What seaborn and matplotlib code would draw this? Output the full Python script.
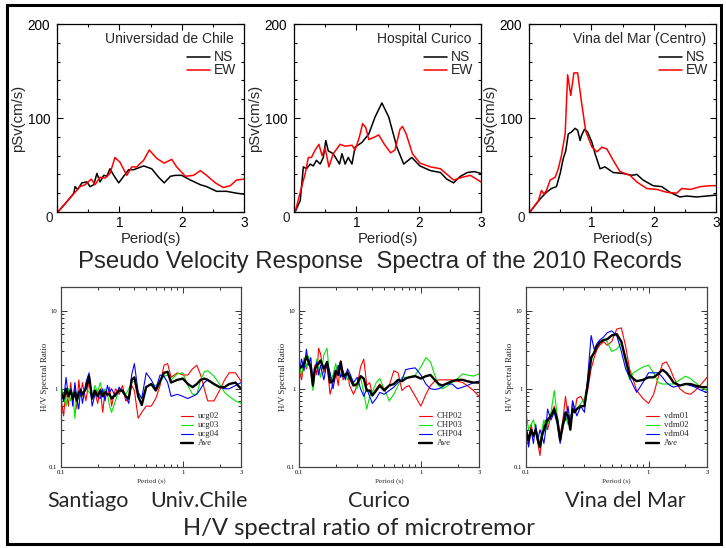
import numpy as np
import pandas as pd
import matplotlib
matplotlib.use("Agg")
import matplotlib.pyplot as plt
import seaborn as sns
from matplotlib.ticker import FixedLocator, NullFormatter, FixedFormatter
from matplotlib.patches import Rectangle

# ---------------- data: pseudo velocity response spectra ----------------
uch_ns_T = [0.02, 0.16, 0.27, 0.29, 0.33, 0.40, 0.48, 0.53, 0.59, 0.64, 0.69, 0.75, 0.80, 0.85, 0.91, 0.99,
            1.07, 1.15, 1.23, 1.39, 1.52, 1.63, 1.72, 1.82, 1.90, 2.00, 2.14, 2.30, 2.40, 2.56, 2.72, 2.88, 3.00]
uch_ns_v = [0.5, 11, 20, 27, 24, 31, 32, 27, 29, 41, 32, 39, 38, 46, 39, 31,
            38, 45, 45, 49, 46, 37, 31, 38, 39, 39, 34, 29, 27, 22, 22, 20, 19]
uch_ew_T = [0.02, 0.21, 0.37, 0.45, 0.55, 0.61, 0.69, 0.77, 0.85, 0.93, 1.01, 1.12, 1.20, 1.28, 1.39, 1.48,
            1.60, 1.72, 1.84, 1.92, 2.06, 2.19, 2.30, 2.40, 2.54, 2.67, 2.78, 2.88, 3.00]
uch_ew_v = [0.5, 15, 27, 29, 35, 29, 37, 36, 41, 58, 53, 39, 48, 48, 55, 66,
            57, 52, 56, 48, 38, 39, 44, 39, 31, 26, 28, 34, 35]

cur_ns_T = [0.02, 0.10, 0.15, 0.20, 0.26, 0.31, 0.36, 0.42, 0.47, 0.51, 0.55, 0.63, 0.73, 0.77, 0.82, 0.87,
            0.93, 0.98, 1.09, 1.20, 1.30, 1.41, 1.52, 1.65, 1.76, 1.89, 2.02, 2.19, 2.35, 2.45, 2.56, 2.67,
            2.78, 2.89, 3.00]
cur_ns_v = [0.5, 12, 48, 46, 51, 49, 55, 51, 58, 76, 65, 62, 51, 62, 51, 58,
            51, 69, 74, 83, 101, 116, 101, 69, 51, 58, 49, 44, 42, 35, 31, 38,
            42, 43, 41]
cur_ew_T = [0.02, 0.12, 0.18, 0.23, 0.28, 0.34, 0.40, 0.45, 0.50, 0.56, 0.63, 0.74, 0.82, 0.93, 0.98, 1.05,
            1.10, 1.15, 1.20, 1.30, 1.36, 1.45, 1.55, 1.62, 1.70, 1.74, 1.80, 1.90, 2.02, 2.19, 2.35, 2.56,
            2.70, 2.83, 3.00]
cur_ew_v = [0.5, 26, 41, 58, 58, 66, 72, 60, 68, 48, 62, 72, 70, 71, 66, 80,
            94, 90, 77, 80, 82, 72, 63, 66, 88, 91, 83, 62, 52, 48, 46, 34,
            37, 39, 32]

vdm_ns_T = [0.02, 0.18, 0.28, 0.36, 0.44, 0.50, 0.55, 0.59, 0.63, 0.68, 0.74, 0.78, 0.82, 0.84, 0.89, 0.94,
            1.01, 1.06, 1.14, 1.22, 1.35, 1.51, 1.65, 1.73, 1.83, 1.99, 2.13, 2.26, 2.42, 2.53, 2.69, 2.85, 3.00]
vdm_ns_v = [0.5, 14, 21, 25, 27, 41, 57, 65, 83, 85, 89, 87, 76, 81, 88, 85,
            74, 62, 46, 48, 42, 41, 39, 40, 34, 28, 27, 21, 16, 17, 16, 17, 18]
vdm_ew_T = [0.02, 0.15, 0.20, 0.24, 0.28, 0.34, 0.42, 0.47, 0.52, 0.58, 0.62, 0.67, 0.72, 0.78, 0.84, 0.91,
            1.01, 1.09, 1.17, 1.25, 1.35, 1.46, 1.62, 1.73, 1.89, 2.05, 2.21, 2.37, 2.45, 2.59, 2.75, 2.91, 3.00]
vdm_ew_v = [0.5, 12, 23, 19, 23, 34, 37, 46, 60, 83, 146, 124, 148, 148, 118, 86,
            69, 64, 69, 67, 55, 43, 39, 32, 25, 24, 21, 20, 25, 24, 27, 28, 28]

psv_titles = ["Universidad de Chile", "Hospital Curico", "Vina del Mar (Centro)"]

# ---------------- data: H/V spectral ratios ----------------
hv_T = [0.10, 0.105, 0.11, 0.115, 0.12, 0.125, 0.13, 0.135, 0.14, 0.145, 0.15, 0.16, 0.17, 0.18, 0.19, 0.20,
        0.21, 0.22, 0.23, 0.24, 0.25, 0.26, 0.28, 0.30, 0.32, 0.34, 0.36, 0.38, 0.40, 0.43, 0.46, 0.50,
        0.55, 0.60, 0.65, 0.70, 0.75, 0.80, 0.90, 1.0, 1.1, 1.2, 1.3, 1.4, 1.5, 1.6, 1.8, 2.0,
        2.2, 2.4, 2.7, 3.0]

ucg02 = [0.75, 0.45, 1.0, 0.6, 1.2, 0.7, 1.1, 0.55, 1.3, 0.8, 1.2, 0.7, 1.3, 0.75, 0.9, 0.65,
         1.0, 0.5, 0.95, 0.8, 1.05, 0.6, 1.0, 0.85, 1.1, 0.7, 0.75, 1.1, 0.95, 0.42, 0.5, 0.6,
         0.6, 0.75, 1.1, 2.0, 2.1, 1.4, 1.6, 1.5, 1.5, 1.8, 2.0, 1.5, 1.0, 0.7, 0.7, 0.95,
         1.3, 1.6, 1.6, 1.25]
ucg03 = [1.1, 0.8, 0.6, 1.0, 0.7, 0.9, 0.42, 0.9, 0.75, 1.0, 0.8, 1.05, 0.9, 0.8, 1.1, 0.9,
         1.2, 0.85, 1.0, 0.9, 0.6, 0.5, 0.7, 1.0, 0.95, 0.85, 1.0, 1.2, 1.25, 0.9, 0.75, 1.05,
         1.15, 1.1, 1.2, 1.45, 1.5, 1.3, 1.55, 1.6, 1.1, 0.85, 0.85, 1.3, 1.65, 1.7, 1.45, 1.15,
         0.9, 0.8, 0.7, 0.65]
ucg04 = [0.9, 0.7, 1.4, 0.8, 1.0, 0.6, 1.2, 0.75, 0.55, 1.0, 0.65, 1.2, 1.6, 0.6, 0.85, 0.8,
         0.75, 1.0, 0.7, 1.1, 0.9, 1.0, 0.8, 1.05, 0.9, 0.8, 0.65, 1.5, 2.1, 0.9, 0.75, 1.6,
         1.3, 1.0, 1.5, 1.45, 1.2, 0.8, 0.85, 0.8, 0.75, 0.8, 0.85, 1.0, 1.2, 1.3, 1.15, 1.05,
         1.0, 1.0, 1.1, 1.2]
ucg_ave = [0.9, 0.75, 1.0, 0.8, 0.95, 0.75, 0.9, 0.7, 0.9, 0.95, 0.85, 1.0, 1.45, 0.75, 0.95, 0.8,
           0.95, 0.8, 0.9, 0.85, 0.85, 0.75, 0.85, 0.95, 0.95, 0.8, 0.75, 1.3, 1.4, 0.8, 0.62, 1.05,
           1.15, 0.95, 1.25, 1.6, 1.65, 1.2, 1.3, 1.35, 1.15, 1.05, 1.15, 1.3, 1.35, 1.3, 1.15, 1.05,
           1.05, 1.15, 1.2, 1.0]

chp02 = [1.8, 1.3, 2.2, 1.8, 2.4, 1.6, 1.1, 2.0, 1.5, 3.3, 2.8, 1.6, 2.0, 0.85, 1.2, 1.7,
         1.1, 2.3, 1.3, 1.5, 1.7, 1.1, 0.85, 1.1, 1.9, 2.4, 1.1, 1.2, 0.85, 1.0, 1.15, 1.0,
         1.1, 1.7, 1.6, 0.95, 1.05, 1.1, 0.8, 0.6, 0.85, 1.1, 1.25, 1.3, 1.3, 1.3, 1.3, 1.25,
         1.2, 1.1, 0.95, 0.8]
chp03 = [2.2, 1.5, 2.5, 1.9, 2.6, 1.8, 0.95, 1.6, 2.4, 1.8, 1.4, 2.7, 3.3, 1.2, 1.5, 2.1,
         1.5, 2.0, 1.4, 1.6, 1.3, 1.5, 1.2, 1.0, 1.4, 0.9, 0.55, 0.8, 0.9, 1.2, 1.35, 1.0,
         0.7, 0.85, 1.1, 1.4, 1.4, 1.4, 1.5, 1.9, 2.5, 2.2, 1.5, 1.1, 1.0, 1.05, 1.2, 1.35,
         1.55, 1.5, 1.45, 1.55]
chp04 = [1.6, 2.4, 1.7, 3.2, 2.0, 2.5, 1.2, 1.8, 2.2, 1.5, 2.0, 1.3, 2.2, 1.6, 1.0, 1.5,
         2.0, 1.4, 1.7, 1.3, 1.8, 1.6, 1.2, 1.4, 1.0, 0.8, 1.0, 0.8, 0.65, 0.75, 0.9, 0.85,
         0.95, 1.05, 1.2, 1.3, 1.75, 1.8, 1.85, 1.5, 1.15, 1.0, 0.98, 1.0, 1.05, 1.15, 1.15, 1.0,
         1.05, 1.1, 1.2, 1.25]
chp_ave = [1.8, 1.9, 2.1, 2.6, 2.2, 1.9, 1.1, 1.8, 2.0, 2.1, 2.3, 1.8, 2.2, 1.2, 1.25, 1.7,
           1.5, 2.2, 1.45, 1.5, 1.6, 1.4, 1.1, 1.15, 1.45, 1.35, 0.95, 0.95, 0.82, 0.95, 1.1, 0.95,
           1.1, 1.15, 1.3, 1.25, 1.35, 1.4, 1.45, 1.35, 1.45, 1.5, 1.3, 1.15, 1.1, 1.15, 1.25, 1.3,
           1.3, 1.25, 1.2, 1.2]

vdm01 = [0.3, 0.2, 0.35, 0.25, 0.3, 0.2, 0.14, 0.25, 0.35, 0.4, 0.3, 0.45, 0.6, 0.4, 0.25, 0.4,
         0.8, 0.45, 0.3, 0.7, 0.5, 0.75, 0.8, 0.65, 1.0, 1.8, 2.5, 3.2, 3.6, 4.0, 3.6, 4.0,
         5.8, 6.0, 3.5, 1.8, 1.3, 0.95, 0.75, 0.65, 0.85, 1.4, 2.1, 2.2, 1.8, 1.4, 1.0, 0.88,
         0.85, 0.95, 1.15, 1.4]
vdm02 = [0.5, 0.3, 0.35, 0.4, 0.3, 0.25, 0.2, 0.3, 0.4, 0.3, 0.35, 0.5, 0.95, 0.45, 0.25, 0.3,
         0.45, 0.35, 0.45, 0.5, 0.6, 0.55, 0.65, 0.75, 1.2, 2.2, 3.0, 3.6, 4.0, 4.3, 4.0, 3.0,
         3.2, 3.8, 2.2, 1.3, 1.6, 1.7, 1.9, 2.0, 1.6, 1.2, 1.15, 1.15, 1.15, 1.15, 1.3, 1.45,
         1.35, 1.2, 1.05, 0.95]
vdm04 = [0.3, 0.18, 0.3, 0.2, 0.35, 0.22, 0.3, 0.25, 0.2, 0.3, 0.55, 0.4, 0.5, 0.35, 0.2, 0.35,
         0.4, 0.6, 0.35, 0.7, 0.55, 0.45, 0.6, 0.5, 1.5, 4.8, 3.2, 3.8, 4.2, 4.6, 5.2, 5.5,
         4.8, 3.0, 1.8, 1.4, 1.1, 0.9, 1.2, 1.6, 1.6, 1.6, 1.4, 1.2, 1.1, 1.05, 1.1, 1.15,
         1.1, 1.05, 0.95, 0.9]
vdm_ave = [0.3, 0.22, 0.3, 0.25, 0.3, 0.22, 0.18, 0.25, 0.3, 0.35, 0.4, 0.45, 0.55, 0.4, 0.22, 0.35,
           0.5, 0.45, 0.3, 0.55, 0.5, 0.55, 0.6, 0.6, 1.2, 2.5, 2.9, 3.5, 3.9, 4.2, 4.3, 4.8,
           5.0, 4.0, 2.4, 1.5, 1.35, 1.25, 1.3, 1.4, 1.4, 1.55, 1.75, 1.6, 1.4, 1.2, 1.1, 1.15,
           1.15, 1.1, 1.05, 1.05]

hv_sets = [
    (["ucg02", "ucg03", "ucg04", "Ave"], [ucg02, ucg03, ucg04, ucg_ave]),
    (["CHP02", "CHP03", "CHP04", "Ave"], [chp02, chp03, chp04, chp_ave]),
    (["vdm01", "vdm02", "vdm04", "Ave"], [vdm01, vdm02, vdm04, vdm_ave]),
]
hv_colors = ["#ff0000", "#00e600", "#0000ff", "#000000"]
hv_widths = [0.8, 0.8, 0.8, 1.7]

# ---------------- figure ----------------
sns.set_theme(style="ticks")
plt.rcParams["font.family"] = ["Liberation Sans", "DejaVu Sans"]
W, H = 726, 548
fig = plt.figure(figsize=(W / 100, H / 100), dpi=100)
fig.patch.set_facecolor("white")


def add_ax(l, t, r, b):
    return fig.add_axes([l / W, 1 - b / H, (r - l) / W, (b - t) / H])


def fx(x):
    return x / W


def fy(y):
    return 1 - y / H


# ----- top row: pSv -----
top_boxes = [(57, 24, 244, 212), (294, 24, 481, 212), (529, 24, 716, 212)]
psv_data = [((uch_ns_T, uch_ns_v), (uch_ew_T, uch_ew_v)),
            ((cur_ns_T, cur_ns_v), (cur_ew_T, cur_ew_v)),
            ((vdm_ns_T, vdm_ns_v), (vdm_ew_T, vdm_ew_v))]

for (l, t, r, b), title, (ns, ew) in zip(top_boxes, psv_titles, psv_data):
    ax = add_ax(l, t, r, b)
    df_ns = pd.DataFrame({"T": ns[0], "v": ns[1]})
    df_ew = pd.DataFrame({"T": ew[0], "v": ew[1]})
    sns.lineplot(data=df_ns, x="T", y="v", ax=ax, color="black", lw=1.1, estimator=None, sort=False)
    sns.lineplot(data=df_ew, x="T", y="v", ax=ax, color="#ff0000", lw=1.1, estimator=None, sort=False)
    ax.set_xlim(0, 3)
    ax.set_ylim(0, 200)
    ax.xaxis.set_major_locator(FixedLocator([0, 1, 2, 3]))
    ax.xaxis.set_minor_locator(FixedLocator([0.5, 1.5, 2.5]))
    ax.yaxis.set_major_locator(FixedLocator([0, 100, 200]))
    ax.yaxis.set_minor_locator(FixedLocator([20, 40, 60, 80, 120, 140, 160, 180]))
    ax.xaxis.set_major_formatter(FixedFormatter(["", "1", "2", "3"]))
    ax.yaxis.set_major_formatter(FixedFormatter(["", "100", "200"]))
    ax.tick_params(which="both", direction="in", top=True, right=True, width=0.8, colors="black")
    ax.tick_params(which="major", length=4, labelsize=9.8)
    ax.tick_params(which="minor", length=2.5)
    ax.tick_params(axis="x", pad=3)
    ax.tick_params(axis="y", pad=5)
    for s in ax.spines.values():
        s.set_linewidth(0.9)
        s.set_color("black")
    ax.set_xlabel("Period(s)", fontsize=10.7, labelpad=1)
    ax.set_ylabel("pSv(cm/s)", fontsize=10.7, labelpad=2)
    fig.text(fx(l - 8), fy(b + 6), "0", fontsize=9.8, ha="center", va="center")
    # legend (title + keys)
    fig.text(fx(r - 10), fy(39), title, fontsize=10, ha="right", va="center")
    for yy, c, lab in [(57, "black", "NS"), (70, "#ff0000", "EW")]:
        fig.add_artist(plt.Line2D([fx(r - 57), fx(r - 34)], [fy(yy), fy(yy)], color=c, lw=1.1,
                                  transform=fig.transFigure))
        fig.text(fx(r - 30), fy(yy), lab, fontsize=10, ha="left", va="center")

fig.text(fx(379.5), fy(268), "Pseudo Velocity Response  Spectra of the 2010 Records",
         fontsize=17.3, ha="center", va="baseline")

# ----- bottom row: H/V -----
bot_boxes = [(61, 287, 241, 467), (299, 287, 479, 467), (526, 287, 707, 467)]
leg_x = [(181, 193, 198), (419, 432, 437), (646, 659, 664)]
serif = ["Liberation Serif", "DejaVu Serif"]
for (l, t, r, b), (labels, series), (lx0, lx1, tx) in zip(bot_boxes, hv_sets, leg_x):
    ax = add_ax(l, t, r, b)
    for lab, vals, c, w in zip(labels, series, hv_colors, hv_widths):
        d = pd.DataFrame({"T": hv_T, "r": vals})
        sns.lineplot(data=d, x="T", y="r", ax=ax, color=c, lw=w, estimator=None, sort=False)
    ax.set_xscale("log")
    ax.set_yscale("log")
    ax.set_xlim(0.1, 3)
    ax.set_ylim(0.1, 20)
    ax.xaxis.set_major_locator(FixedLocator([0.1, 1, 3]))
    ax.xaxis.set_major_formatter(FixedFormatter(["0.1", "1", "3"]))
    ax.xaxis.set_minor_locator(FixedLocator([0.2, 0.3, 0.4, 0.5, 0.6, 0.7, 0.8, 0.9, 2]))
    ax.xaxis.set_minor_formatter(NullFormatter())
    ax.yaxis.set_major_locator(FixedLocator([0.1, 1, 10]))
    ax.yaxis.set_major_formatter(FixedFormatter(["0.1", "1", "10"]))
    ax.yaxis.set_minor_locator(FixedLocator([0.2, 0.3, 0.4, 0.5, 0.6, 0.7, 0.8, 0.9,
                                             2, 3, 4, 5, 6, 7, 8, 9]))
    ax.yaxis.set_minor_formatter(NullFormatter())
    ax.tick_params(which="both", direction="in", top=True, right=True, width=0.7, colors="#333333",
                   labelcolor="black")
    ax.tick_params(which="major", length=4, labelsize=4.8, pad=2.5)
    ax.tick_params(which="minor", length=2)
    for lbl in ax.get_xticklabels() + ax.get_yticklabels():
        lbl.set_family(serif)
    for s in ax.spines.values():
        s.set_linewidth(0.9)
        s.set_color("#444444")
    ax.set_xlabel("Period (s)", fontsize=5.2, family=serif, labelpad=2)
    ax.set_ylabel("H/V Spectral Ratio", fontsize=6.4, family=serif, labelpad=0)
    for i, (lab, c, w) in enumerate(zip(labels, hv_colors, hv_widths)):
        yy = 416 + 9 * i
        fig.add_artist(plt.Line2D([fx(lx0), fx(lx1)], [fy(yy), fy(yy)], color=c, lw=w,
                                  transform=fig.transFigure))
        fig.text(fx(tx), fy(yy), lab, fontsize=6.3, family=serif, ha="left", va="center")

cal = ["Lato", "DejaVu Sans"]
fig.text(fx(47), fy(507), "Santiago", fontsize=15.5, family=cal, ha="left", va="baseline")
fig.text(fx(248), fy(507), "Univ.Chile", fontsize=15.5, family=cal, ha="right", va="baseline")
fig.text(fx(379), fy(507), "Curico", fontsize=15.5, family=cal, ha="center", va="baseline")
fig.text(fx(625), fy(507), "Vina del Mar", fontsize=15.5, family=cal, ha="center", va="baseline")
fig.text(fx(359), fy(535), "H/V spectral ratio of microtremor", fontsize=17.2, family=cal,
         ha="center", va="baseline")

# outer frame
fig.add_artist(Rectangle((fx(6.5), fy(544)), (721 - 6.5) / W, (544 - 4.5) / H, transform=fig.transFigure,
                         fill=False, edgecolor="black", lw=2.2))

fig.savefig("out.png", dpi=100, facecolor="white")
